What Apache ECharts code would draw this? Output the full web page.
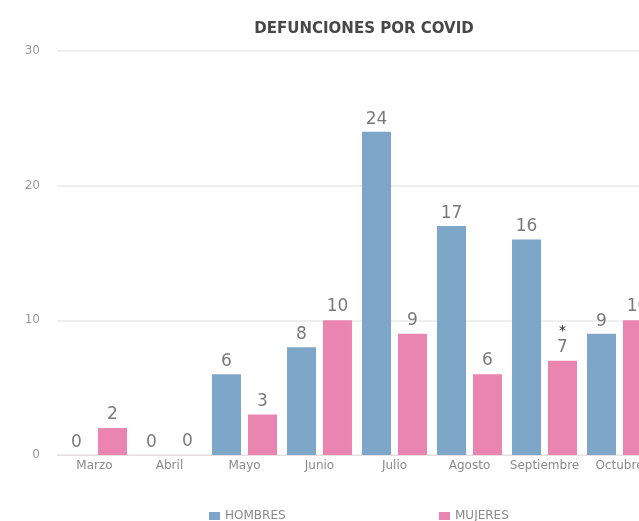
<!DOCTYPE html>
<html>
<head>
<meta charset="utf-8">
<script src="https://cdn.jsdelivr.net/npm/echarts@6/dist/echarts.min.js"></script>
<style>
  html, body { margin: 0; padding: 0; background: #fff; }
  #chart { width: 639px; height: 521px; }
</style>
</head>
<body>
<div id="chart"></div>
<script>
// datos
const meses = ['Marzo', 'Abril', 'Mayo', 'Junio', 'Julio', 'Agosto', 'Septiembre', 'Octubre']
const hombres = [0, 0, 6, 8, 24, 17, 16, 9]
const mujeres = [2, 0, 3, 10, 9, 6, 7, 10]
const yTicks = [0, 10, 20, 30]
// el asterisco va sobre el dato de mujeres en septiembre
const notaMujeres = 'Septiembre'

const font = '"DejaVu Sans", sans-serif'
const chart = echarts.init(document.getElementById('chart'))

const legendText = { color: '#8a8a8a', fontSize: 12, fontFamily: font }

const option = {
  animation: false,
  textStyle: { fontFamily: font },
  title: {
    text: 'DEFUNCIONES POR COVID',
    left: 359,
    textAlign: 'center',
    top: 17,
    textStyle: { fontSize: 15, fontWeight: 'bold', color: '#474747', fontFamily: font }
  },
  // dos leyendas para colocar cada item donde esta en el original
  legend: [
    {
      top: 505, left: 204, itemWidth: 11, itemHeight: 8, icon: 'rect',
      textStyle: legendText, data: ['HOMBRES']
    },
    {
      top: 505, left: 434, itemWidth: 11, itemHeight: 8, icon: 'rect',
      textStyle: legendText, data: ['MUJERES']
    }
  ],
  // el original esta cortado a la derecha: la rejilla sale del lienzo
  grid: {
    left: 57,
    width: 600,
    top: 51,
    bottom: 66,
    outerBoundsMode: 'none'
  },
  xAxis: {
    type: 'category',
    data: meses,
    axisLine: { lineStyle: { color: '#e6e0e3' } },
    axisTick: { show: false },
    axisLabel: { color: '#8a8a8a', fontSize: 12, margin: 5, interval: 0, fontFamily: font }
  },
  yAxis: {
    type: 'value',
    min: yTicks[0],
    max: yTicks[yTicks.length - 1],
    interval: 10,
    axisLine: { show: false },
    axisTick: { show: false },
    axisLabel: { color: '#9a9a9a', fontSize: 12, margin: 17, fontFamily: font },
    splitLine: { lineStyle: { color: '#efefef', width: 2 } }
  },
  series: [
    {
      name: 'HOMBRES',
      type: 'bar',
      data: hombres,
      barWidth: 29,
      barGap: '24%',
      itemStyle: { color: '#7ea6c9' },
      label: { show: true, position: 'top', color: '#7a7a7a', fontSize: 17, distance: 4, fontFamily: font }
    },
    {
      name: 'MUJERES',
      type: 'bar',
      data: mujeres,
      barWidth: 29,
      itemStyle: { color: '#e985b0' },
      label: {
        show: true,
        position: 'top',
        distance: 4,
        formatter: function (p) {
          if (p.name === notaMujeres) return '{ast|*}\n{v|' + p.value + '}'
          return '{v|' + p.value + '}'
        },
        rich: {
          v: { color: '#7a7a7a', fontSize: 17, fontFamily: font, lineHeight: 19 },
          ast: { color: '#222', fontSize: 14, fontFamily: font, lineHeight: 12 }
        }
      }
    }
  ]
}

chart.setOption(option)
</script>
</body>
</html>
